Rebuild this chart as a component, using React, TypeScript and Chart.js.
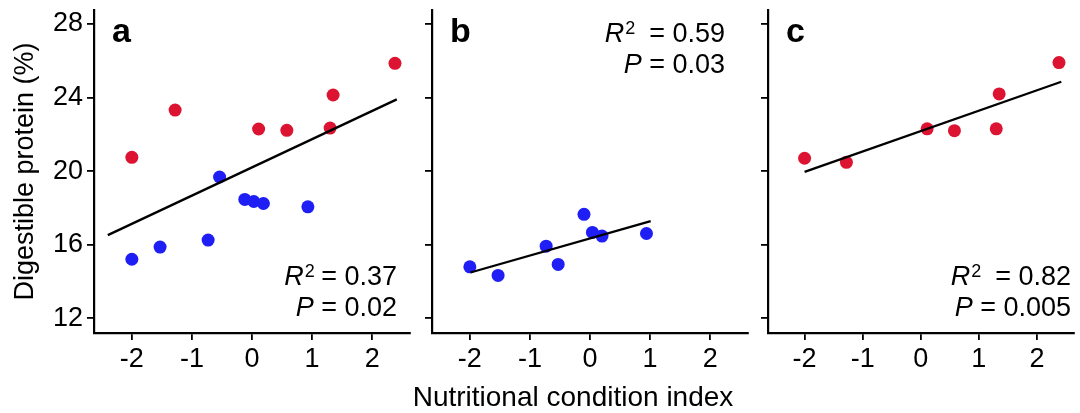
import React, { useEffect, useRef } from 'react';
import { Chart, registerables } from 'chart.js';
Chart.register(...registerables);

const FONT = "'Liberation Sans', Arial, sans-serif";
const RED = '#DC1431';
const BLUE = '#1E1EF5';

const xTicks = [-2, -1, 0, 1, 2];
const yTicks = [12, 16, 20, 24, 28];

// Panel a
const aRedX = [-2.0, -1.28, 0.11, 0.58, 1.3, 1.35, 2.38];
const aRedY = [20.75, 23.32, 22.29, 22.22, 22.34, 24.14, 25.86];
const aBlueX = [-2.0, -1.53, -0.73, -0.54, -0.12, 0.03, 0.19, 0.93];
const aBlueY = [15.21, 15.87, 16.25, 19.68, 18.46, 18.35, 18.24, 18.06];
const aFitX = [-2.4, 2.41];
const aFitY = [16.52, 23.9];

// Panel b
const bBlueX = [-2.0, -1.53, -0.73, -0.53, -0.1, 0.04, 0.2, 0.94];
const bBlueY = [14.8, 14.33, 15.92, 14.93, 17.65, 16.67, 16.47, 16.61];
const bFitX = [-1.99, 1.01];
const bFitY = [14.49, 17.28];

// Panel c
const cRedX = [-2.0, -1.28, 0.11, 0.58, 1.3, 1.35, 2.38];
const cRedY = [20.7, 20.48, 22.3, 22.2, 22.3, 24.2, 25.9];
const cFitX = [-2.0, 2.42];
const cFitY = [19.96, 24.86];

const pts = (xs: number[], ys: number[]) => xs.map((x, i) => ({ x, y: ys[i] }));

type Part = { t: string; italic?: boolean; sup?: boolean };

function drawParts(ctx: CanvasRenderingContext2D, parts: Part[], right: number, baseline: number, size: number) {
  const fontOf = (p: Part) =>
    `${p.italic ? 'italic ' : ''}${p.sup ? Math.round(size * 0.68) : size}px ${FONT}`;
  let total = 0;
  parts.forEach((p) => {
    ctx.font = fontOf(p);
    total += ctx.measureText(p.t).width;
  });
  let x = right - total;
  parts.forEach((p) => {
    ctx.font = fontOf(p);
    ctx.fillText(p.t, x + (p.sup ? 1 : 0), p.sup ? baseline - size * 0.3 : baseline);
    x += ctx.measureText(p.t).width;
  });
}

interface PanelDef {
  left: number;
  width: number;
  yWidth: number;
  padRight: number;
  letter: string;
  r2: string;
  p: string;
  statsRight: number; // offset from chart-area left
  statsBase: number[];
  showYLabels: boolean;
  xTitle?: { x: number; y: number };
  datasets: any[];
}

const panels: PanelDef[] = [
  {
    left: 0, width: 420, yWidth: 94, padRight: 10, letter: 'a', r2: '0.37', p: '0.02',
    statsRight: 303, statsBase: [285, 316], showYLabels: true,
    datasets: [
      { data: pts(aFitX, aFitY), showLine: true, borderColor: '#000', borderWidth: 2.3, pointRadius: 0 },
      { data: pts(aRedX, aRedY), backgroundColor: RED, borderWidth: 0, pointRadius: 6.5 },
      { data: pts(aBlueX, aBlueY), backgroundColor: BLUE, borderWidth: 0, pointRadius: 6.5 },
    ],
  },
  {
    left: 400, width: 360, yWidth: 32, padRight: 12, letter: 'b', r2: '0.59', p: '0.03',
    statsRight: 293, statsBase: [42, 73], showYLabels: false,
    xTitle: { x: 173, y: 406 },
    datasets: [
      { data: pts(bFitX, bFitY), showLine: true, borderColor: '#000', borderWidth: 2.3, pointRadius: 0 },
      { data: pts(bBlueX, bBlueY), backgroundColor: BLUE, borderWidth: 0, pointRadius: 6.5 },
    ],
  },
  {
    left: 740, width: 340, yWidth: 28, padRight: 0, letter: 'c', r2: '0.82', p: '0.005',
    statsRight: 303, statsBase: [285, 316], showYLabels: false,
    datasets: [
      { data: pts(cFitX, cFitY), showLine: true, borderColor: '#000', borderWidth: 2.3, pointRadius: 0 },
      { data: pts(cRedX, cRedY), backgroundColor: RED, borderWidth: 0, pointRadius: 6.5 },
    ],
  },
];

function Panel({ def }: { def: PanelDef }) {
  const ref = useRef<HTMLCanvasElement>(null);
  useEffect(() => {
    if (!ref.current) return;
    const annot = {
      id: 'annot',
      afterDraw(chart: any) {
        const ctx = chart.ctx as CanvasRenderingContext2D;
        const ca = chart.chartArea;
        ctx.save();
        ctx.fillStyle = '#000';
        ctx.textAlign = 'left';
        ctx.textBaseline = 'alphabetic';
        ctx.font = `bold 34px ${FONT}`;
        ctx.fillText(def.letter, ca.left + 18, 42);
        const right = ca.left + def.statsRight;
        const sp = def.showYLabels ? ' = ' : '  = ';
        drawParts(ctx, [{ t: 'R', italic: true }, { t: '2', sup: true }, { t: sp + def.r2 }], right, def.statsBase[0], 27);
        drawParts(ctx, [{ t: 'P', italic: true }, { t: ' = ' + def.p }], right, def.statsBase[1], 27);
        if (def.xTitle) {
          ctx.textAlign = 'center';
          ctx.font = `28px ${FONT}`;
          ctx.fillText('Nutritional condition index', def.xTitle.x, def.xTitle.y);
        }
        ctx.restore();
      },
    };
    const chart = new Chart(ref.current, {
      type: 'scatter',
      data: { datasets: def.datasets },
      options: {
        animation: false,
        responsive: false,
        maintainAspectRatio: false,
        events: [],
        plugins: { legend: { display: false }, tooltip: { enabled: false } },
        layout: { padding: { top: 10, right: def.padRight, bottom: 0, left: 0 } },
        scales: {
          x: {
            type: 'linear',
            min: -2.63,
            max: 2.63,
            afterBuildTicks: (s: any) => {
              s.ticks = xTicks.map((v) => ({ value: v }));
            },
            afterFit: (s: any) => {
              s.height = 80;
              s.paddingLeft = 0;
              s.paddingRight = 0;
            },
            grid: { display: true, drawOnChartArea: false, drawTicks: true, tickLength: 7, color: '#000', lineWidth: 1.8 },
            border: { display: true, color: '#000', width: 2.2 },
            ticks: {
              color: '#000',
              font: { family: FONT, size: 27 },
              padding: 3,
              maxRotation: 0,
              autoSkip: false,
              callback: (v: any) => String(v),
            },
          },
          y: {
            type: 'linear',
            min: 11.2,
            max: 28.76,
            afterBuildTicks: (s: any) => {
              s.ticks = yTicks.map((v) => ({ value: v }));
            },
            afterFit: (s: any) => {
              s.width = def.yWidth;
              s.paddingTop = 0;
              s.paddingBottom = 0;
            },
            grid: { display: true, drawOnChartArea: false, drawTicks: true, tickLength: 7, color: '#000', lineWidth: 1.8 },
            border: { display: true, color: '#000', width: 2.2 },
            title: {
              display: def.showYLabels,
              text: 'Digestible protein (%)',
              color: '#000',
              font: { family: FONT, size: 27 },
              padding: { top: 9, bottom: 0 },
            },
            ticks: {
              color: '#000',
              font: { family: FONT, size: 27 },
              padding: 4,
              autoSkip: false,
              callback: (v: any) => (def.showYLabels ? String(v) : ''),
            },
          },
        },
      } as any,
      plugins: [annot],
    });
    return () => chart.destroy();
  }, [def]);
  return (
    <canvas
      ref={ref}
      width={def.width}
      height={413}
      style={{ position: 'absolute', left: def.left, top: 0, width: def.width, height: 413 }}
    />
  );
}

export default function App() {
  return (
    <div style={{ position: 'absolute', left: 0, top: 0, width: 1080, height: 413, background: '#fff', overflow: 'hidden' }}>
      {panels.map((p) => (
        <Panel key={p.letter} def={p} />
      ))}
    </div>
  );
}
